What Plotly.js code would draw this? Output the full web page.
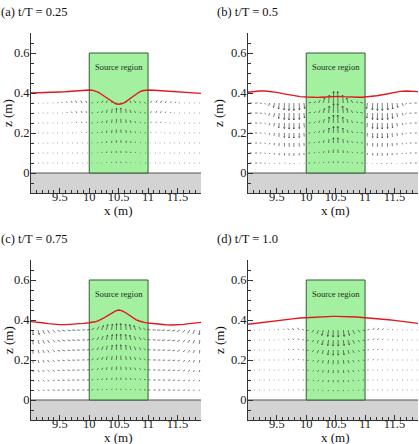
<!DOCTYPE html>
<html>
<head>
<meta charset="utf-8">
<script src="https://cdn.plot.ly/plotly-3.0.1.min.js"></script>
<style>
  html, body { margin: 0; padding: 0; background: #fff; }
  #chart { width: 419px; height: 444px; }
</style>
</head>
<body>
<div id="chart"></div>
<script>
// ---------- data ----------
const panelTitles = ['(a) t/T = 0.25', '(b) t/T = 0.5', '(c) t/T = 0.75', '(d) t/T = 1.0'];

// source region and still-water bed
const sourceX = [10, 11];
const sourceZ = [0, 0.6];
const bedZ = [-0.1, 0];

// free-surface elevation z (m) along x (m)
const surfX = [9.0, 9.1, 9.2, 9.3, 9.4, 9.5, 9.6, 9.7, 9.8, 9.9,
  10.0, 10.05, 10.1, 10.15, 10.2, 10.25, 10.3, 10.35, 10.4, 10.45, 10.5,
  10.55, 10.6, 10.65, 10.7, 10.75, 10.8, 10.85, 10.9, 10.95, 11.0,
  11.1, 11.2, 11.3, 11.4, 11.5, 11.6, 11.7, 11.8, 11.9];
const surfA = [.400, .401, .402, .403, .402, .404, .406, .409, .412, .414,
  .415, .414, .410, .404, .395, .385, .373, .362, .352, .346, .344,
  .346, .352, .362, .373, .385, .396, .405, .411, .414, .415,
  .414, .412, .409, .406, .404, .402, .400, .399, .398];
const surfB = [.403, .407, .410, .410, .408, .403, .397, .391, .386, .382,
  .380, .379, .379, .378, .378, .379, .380, .381, .382, .383, .384,
  .383, .382, .381, .380, .379, .378, .378, .379, .379, .380,
  .382, .386, .391, .397, .403, .408, .410, .410, .407];
const surfC = [.392, .390, .386, .382, .379, .377, .377, .378, .380, .383,
  .386, .388, .391, .396, .402, .410, .419, .428, .437, .446, .450,
  .447, .440, .430, .420, .410, .401, .395, .390, .387, .385,
  .381, .378, .376, .375, .376, .378, .382, .386, .388];
const surfD = [.378, .382, .386, .390, .394, .398, .401, .404, .407, .410,
  .412, .413, .414, .415, .415, .416, .416, .417, .417, .418, .418,
  .418, .417, .417, .416, .416, .415, .415, .414, .413, .412,
  .410, .407, .404, .401, .398, .394, .390, .386, .383];

// velocity sampling grid
const gridX = [9.04, 9.13, 9.21, 9.29, 9.38, 9.46, 9.54, 9.63, 9.71, 9.79, 9.88, 9.96,
  10.04, 10.13, 10.21, 10.29, 10.38, 10.46, 10.54, 10.63, 10.71, 10.79, 10.88, 10.96,
  11.04, 11.13, 11.21, 11.29, 11.38, 11.46, 11.54, 11.63, 11.71, 11.79, 11.88];
const gridZ = [0.35, 0.30, 0.25, 0.20, 0.15, 0.10, 0.05];

// velocity components (cm/s), one row per gridZ level
const uA = [
  [1,1,1,1,1,1, -0.8,-1,-1.2,-1.4,-1.5,-1.3, 1.6,1.6,1.4,1,0.6,0.2,-0.2,-0.6,-1,-1.4,-1.6,-1.6, 1.3,1.5,1.4,1.2,1,0.8, -1,-1,-1,-1,-1],
  [1,1,1,1,1,1,1, -0.6,-0.8,-1,-1.1,-1, 1.5,1.5,1.3,1,0.6,0.2,-0.2,-0.6,-1,-1.3,-1.5,-1.5, 1,1.1,1,0.8,0.6, -1,-1,-1,-1,-1,-1],
  [1,1,1,1,1,1,1,1, -0.6,-0.7,-0.8,-0.8, 1.3,1.2,1,0.8,0.5,0.2,-0.2,-0.5,-0.8,-1,-1.2,-1.3, 0.8,0.8,0.7,0.6, -1,-1,-1,-1,-1,-1,-1],
  [1,1,1,1,1,1,1,1,1, -0.5,-0.6,-0.6, 1.2,1,0.8,0.6,0.4,0.1,-0.1,-0.4,-0.6,-0.8,-1,-1.2, 0.6,0.6,0.5, -1,-1,-1,-1,-1,-1,-1,-1],
  [1,1,1,1,1,1,1,1,1,1,1,1, 1,0.9,0.7,0.5,0.3,0.1,-0.1,-0.3,-0.5,-0.7,-0.9,-1, -1,-1,-1,-1,-1,-1,-1,-1,-1,-1,-1],
  [1,1,1,1,1,1,1,1,1,1,1,1, 1,0.8,0.6,0.4,0.2,0.1,-0.1,-0.2,-0.4,-0.6,-0.8,-1, -1,-1,-1,-1,-1,-1,-1,-1,-1,-1,-1],
  [1,1,1,1,1,1,1,1,1,1,1,1, 1,0.8,0.6,0.4,0.2,0.1,-0.1,-0.2,-0.4,-0.6,-0.8,-1, -1,-1,-1,-1,-1,-1,-1,-1,-1,-1,-1]
];
const wA = [
  [0,0,0,0,0.2,0.4, 1.2,1.6,2,2.4,2.6,2.2, 0.4,1.4,2.4,2.6,2,1,1,2,2.6,2.4,1.4,0.4, 2.2,2.6,2.4,2,1.6,1.2, 0.4,0.2,0,0,0],
  [0,0,0,0,0,0,0, 1,1.4,1.8,2,1.8, 0.3,1.2,2.2,3.2,4.2,4.8,4.8,4.2,3.2,2.2,1.2,0.3, 1.8,2,1.8,1.4,1, 0,0,0,0,0,0],
  [0,0,0,0,0,0,0,0, 0.8,1.1,1.3,1.3, 0.2,1,1.9,2.8,3.6,4.2,4.2,3.6,2.8,1.9,1,0.2, 1.3,1.3,1.1,0.8, 0,0,0,0,0,0,0],
  [0,0,0,0,0,0,0,0,0, 0.6,0.8,0.9, 0.2,0.8,1.6,2.4,3,3.5,3.5,3,2.4,1.6,0.8,0.2, 0.9,0.8,0.6, 0,0,0,0,0,0,0,0],
  [0,0,0,0,0,0,0,0,0,0,0,0, 0.1,0.6,1.2,1.8,2.4,2.8,2.8,2.4,1.8,1.2,0.6,0.1, 0,0,0,0,0,0,0,0,0,0,0],
  [0,0,0,0,0,0,0,0,0,0,0,0, 0,0.4,0.9,1.3,1.8,2.1,2.1,1.8,1.3,0.9,0.4,0, 0,0,0,0,0,0,0,0,0,0,0],
  [0,0,0,0,0,0,0,0,0,0,0,0, 0,0.2,0.5,0.8,1.1,1.3,1.3,1.1,0.8,0.5,0.2,0, 0,0,0,0,0,0,0,0,0,0,0]
];

const uB = [
  [2.5,2.5,2,1.5, -1.2,-1, -0.6,-0.4,-0.2,0,0.3,0.8, 2.4,2,1.6,1.2,0.8,0.3,-0.3,-0.8,-1.2,-1.6,-2,-2.4, -0.8,-0.3,0,0.2,0.4,0.6, 1,1.2, -1.5,-2,-2.5],
  [2.5,2.5,2,1.5, -1,-0.8, -0.5,-0.3,-0.2,0,0.2,0.6, 2.2,1.8,1.5,1.1,0.7,0.3,-0.3,-0.7,-1.1,-1.5,-1.8,-2.2, -0.6,-0.2,0,0.2,0.3,0.5, 0.8,1, -1.5,-2,-2.5],
  [2.2,2.2,1.8,1.3, -0.8,-0.6, -0.4,-0.2,-0.1,0,0.2,0.5, 2,1.6,1.3,1,0.6,0.2,-0.2,-0.6,-1,-1.3,-1.6,-2, -0.5,-0.2,0,0.1,0.2,0.4, 0.6,0.8, -1.3,-1.8,-2.2],
  [2,2,1.6,1.2, -0.6,-0.5, -0.3,-0.2,-0.1,0,0.1,0.4, 1.8,1.4,1.1,0.8,0.5,0.2,-0.2,-0.5,-0.8,-1.1,-1.4,-1.8, -0.4,-0.1,0,0.1,0.2,0.3, 0.5,0.6, -1.2,-1.6,-2],
  [2,2,1.6,1.2, -0.5,-0.4, -0.2,-0.1,0,0,0.1,0.3, 1.6,1.3,1,0.7,0.4,0.1,-0.1,-0.4,-0.7,-1,-1.3,-1.6, -0.3,-0.1,0,0,0.1,0.2, 0.4,0.5, -1.2,-1.6,-2],
  [2,2,1.6,1.2, -0.4,-0.3, -0.1,0,0,0,0.1,0.2, 1.5,1.2,0.9,0.6,0.3,0.1,-0.1,-0.3,-0.6,-0.9,-1.2,-1.5, -0.2,-0.1,0,0,0,0.1, 0.3,0.4, -1.2,-1.6,-2],
  [2,2,1.6,1.2, -0.3,-0.2, 1,1,0.8,0.6,0.5,0.4, 1.5,1.2,0.9,0.6,0.3,0.1,-0.1,-0.3,-0.6,-0.9,-1.2,-1.5, -0.4,-0.5,-0.6,-0.8,-1,-1, 0.2,0.3, -1.2,-1.6,-2]
];
const wB = [
  [0,0,-0.5,-1.5, -3,-4.5, -6,-7,-7.5,-7.5,-7,-5.5, 0.6,1.6,3,5,8,11.5,11.5,8,5,3,1.6,0.6, -5.5,-7,-7.5,-7.5,-7,-6, -4.5,-3, -1.5,-0.5,0],
  [0,0,-0.4,-1.2, -2.6,-4, -5.5,-6.5,-7,-7,-6.5,-5, 0.5,1.5,2.8,4.5,7,9.5,9.5,7,4.5,2.8,1.5,0.5, -5,-6.5,-7,-7,-6.5,-5.5, -4,-2.6, -1.2,-0.4,0],
  [0,0,-0.3,-1, -2.2,-3.4, -4.8,-5.6,-6,-6,-5.6,-4.4, 0.4,1.3,2.5,4,6,8,8,6,4,2.5,1.3,0.4, -4.4,-5.6,-6,-6,-5.6,-4.8, -3.4,-2.2, -1,-0.3,0],
  [0,0,-0.2,-0.8, -1.8,-2.8, -4,-4.6,-5,-5,-4.6,-3.6, 0.3,1.1,2.1,3.3,5,6.6,6.6,5,3.3,2.1,1.1,0.3, -3.6,-4.6,-5,-5,-4.6,-4, -2.8,-1.8, -0.8,-0.2,0],
  [0,0,-0.2,-0.6, -1.4,-2.2, -3.2,-3.6,-3.9,-3.9,-3.6,-2.8, 0.2,0.9,1.7,2.7,4,5.2,5.2,4,2.7,1.7,0.9,0.2, -2.8,-3.6,-3.9,-3.9,-3.6,-3.2, -2.2,-1.4, -0.6,-0.2,0],
  [0,0,-0.1,-0.4, -1,-1.6, -2.3,-2.6,-2.8,-2.8,-2.6,-2, 0.1,0.6,1.2,1.9,2.8,3.6,3.6,2.8,1.9,1.2,0.6,0.1, -2,-2.6,-2.8,-2.8,-2.6,-2.3, -1.6,-1, -0.4,-0.1,0],
  [0,0,0,-0.2, -0.5,-0.8, -0.6,-0.7,-0.8,-0.8,-0.7,-0.5, 0,0.3,0.6,1,1.4,1.8,1.8,1.4,1,0.6,0.3,0, -0.5,-0.7,-0.8,-0.8,-0.7,-0.6, -0.8,-0.5, -0.2,0,0]
];

const uC = [
  [0.4,1.2,1.8,2.2,2.6, 3,3.2,3.4,3.4,3.4,3.2,3, 2.5,2.2,1.8,1.4,0.8,0.3,-0.3,-0.8,-1.4,-1.8,-2.2,-2.5, -3,-3.2,-3.4,-3.4,-3.4,-3.2,-3, -2.6,-2.2,-1.6,-0.6],
  [0.4,1.1,1.6,2,2.4, 2.8,3,3.1,3.1,3.1,3,2.8, 2.3,2,1.6,1.2,0.7,0.3,-0.3,-0.7,-1.2,-1.6,-2,-2.3, -2.8,-3,-3.1,-3.1,-3.1,-3,-2.8, -2.4,-2,-1.5,-0.6],
  [0.4,1,1.5,1.8,2.2, 2.6,2.8,2.9,2.9,2.9,2.8,2.6, 2.1,1.8,1.4,1.1,0.6,0.2,-0.2,-0.6,-1.1,-1.4,-1.8,-2.1, -2.6,-2.8,-2.9,-2.9,-2.9,-2.8,-2.6, -2.2,-1.8,-1.4,-0.5],
  [0.4,1,1.4,1.7,2, 2.4,2.6,2.7,2.7,2.7,2.6,2.4, 1.9,1.6,1.3,1,0.6,0.2,-0.2,-0.6,-1,-1.3,-1.6,-1.9, -2.4,-2.6,-2.7,-2.7,-2.7,-2.6,-2.4, -2,-1.7,-1.3,-0.5],
  [0.6,1.2,1.5,1.8,2, 2.3,2.5,2.6,2.6,2.6,2.5,2.3, 1.8,1.5,1.2,0.9,0.5,0.2,-0.2,-0.5,-0.9,-1.2,-1.5,-1.8, -2.3,-2.5,-2.6,-2.6,-2.6,-2.5,-2.3, -2,-1.8,-1.4,-0.7],
  [0.8,1.3,1.6,1.8,2, 2.2,2.4,2.5,2.5,2.5,2.4,2.2, 1.7,1.4,1.1,0.8,0.5,0.2,-0.2,-0.5,-0.8,-1.1,-1.4,-1.7, -2.2,-2.4,-2.5,-2.5,-2.5,-2.4,-2.2, -2,-1.8,-1.5,-1],
  [1,1.4,1.7,1.9,2, 2.2,2.3,2.4,2.4,2.4,2.3,2.2, 1.7,1.4,1.1,0.8,0.5,0.2,-0.2,-0.5,-0.8,-1.1,-1.4,-1.7, -2.2,-2.3,-2.4,-2.4,-2.4,-2.3,-2.2, -2,-1.9,-1.6,-1.2]
];
const wC = [
  [-5,-4.5,-4,-3.4,-2.6, -1.8,-1.2,-0.8,-0.4,-0.2,0.2,0.6, 2,3.4,4.4,5.4,6,6.4,6.4,6,5.4,4.4,3.4,2, 0.6,0.2,-0.2,-0.4,-0.8,-1.2,-1.8, -2.6,-3.4,-4,-4.6],
  [-4.4,-4,-3.5,-3,-2.3, -1.6,-1.1,-0.7,-0.4,-0.2,0.2,0.5, 1.8,3,4,4.8,5.4,5.8,5.8,5.4,4.8,4,3,1.8, 0.5,0.2,-0.2,-0.4,-0.7,-1.1,-1.6, -2.3,-3,-3.5,-4],
  [-3.8,-3.4,-3,-2.6,-2, -1.4,-1,-0.6,-0.3,-0.1,0.1,0.4, 1.5,2.6,3.5,4.2,4.8,5.2,5.2,4.8,4.2,3.5,2.6,1.5, 0.4,0.1,-0.1,-0.3,-0.6,-1,-1.4, -2,-2.6,-3,-3.4],
  [-3.2,-2.9,-2.6,-2.2,-1.7, -1.2,-0.8,-0.5,-0.3,-0.1,0.1,0.3, 1.3,2.2,3,3.6,4.1,4.4,4.4,4.1,3.6,3,2.2,1.3, 0.3,0.1,-0.1,-0.3,-0.5,-0.8,-1.2, -1.7,-2.2,-2.6,-2.9],
  [-2.4,-2.2,-2,-1.7,-1.3, -0.9,-0.6,-0.4,-0.2,-0.1,0.1,0.2, 1,1.7,2.3,2.8,3.2,3.4,3.4,3.2,2.8,2.3,1.7,1, 0.2,0.1,-0.1,-0.2,-0.4,-0.6,-0.9, -1.3,-1.7,-2,-2.2],
  [-1.6,-1.5,-1.3,-1.1,-0.9, -0.6,-0.4,-0.3,-0.2,-0.1,0,0.1, 0.7,1.2,1.6,2,2.2,2.4,2.4,2.2,2,1.6,1.2,0.7, 0.1,0,-0.1,-0.2,-0.3,-0.4,-0.6, -0.9,-1.1,-1.3,-1.5],
  [-0.8,-0.7,-0.6,-0.5,-0.4, -0.3,-0.2,-0.1,-0.1,0,0,0, 0.3,0.6,0.8,1,1.1,1.2,1.2,1.1,1,0.8,0.6,0.3, 0,0,0,-0.1,-0.1,-0.2,-0.3, -0.4,-0.5,-0.6,-0.7]
];

const uD = [
  [-1,-1,-1,-1,-1,-1, -1,-1.2,-1.5,-1.6,-1.6,-2, -2.2,-2,-1.8,-1.4,-0.9,-0.3,0.3,0.9,1.4,1.8,2,2.2, 2,1.6,1.6,1.5,1.2, 1,1,1,1,1,1],
  [-1,-1,-1,-1,-1,-1, -0.8,-1,-1.2,-1.3,-1.4,-1.8, -2,-1.8,-1.6,-1.3,-0.8,-0.3,0.3,0.8,1.3,1.6,1.8,2, 1.8,1.4,1.3,1.2,1, 1,1,1,1,1,1],
  [-1,-1,-1,-1,-1,-1, -0.6,-0.8,-1,-1.1,-1.2,-1.6, -1.8,-1.6,-1.4,-1.1,-0.7,-0.2,0.2,0.7,1.1,1.4,1.6,1.8, 1.6,1.2,1.1,1,0.8, 1,1,1,1,1,1],
  [-1,-1,-1,-1,-1,-1, -1,-1,-1,-1,-1,-1.4, -1.6,-1.4,-1.2,-0.9,-0.6,-0.2,0.2,0.6,0.9,1.2,1.4,1.6, 1.4,1,1,1,1, 1,1,1,1,1,1],
  [-1,-1,-1,-1,-1,-1,-1,-1,-1,-1,-1,-1.2, -1.4,-1.2,-1,-0.8,-0.5,-0.2,0.2,0.5,0.8,1,1.2,1.4, 1.2,1,1,1,1,1,1,1,1,1,1],
  [-1,-1,-1,-1,-1,-1,-1,-1,-1,-1,-1,-1.1, -1.2,-1,-0.9,-0.7,-0.4,-0.1,0.1,0.4,0.7,0.9,1,1.2, 1.1,1,1,1,1,1,1,1,1,1,1],
  [-1,-1,-1,-1,-1,-1,-1,-1,-1,-1,-1,-1.1, -1.2,-1,-0.9,-0.7,-0.4,-0.1,0.1,0.4,0.7,0.9,1,1.2, 1.1,1,1,1,1,1,1,1,1,1,1]
];
const wD = [
  [0,0,0,0,0,0.2, 0.8,1.2,1.6,2,2.2,0.6, -1,-2.5,-4,-5.4,-6.4,-7,-7,-6.4,-5.4,-4,-2.5,-1, 0.6,2.2,2,1.6,1.2, 0.8,0.2,0,0,0,0],
  [0,0,0,0,0,0, 0.6,0.9,1.2,1.5,1.6,0.4, -0.8,-2.2,-3.5,-4.8,-5.6,-6.1,-6.1,-5.6,-4.8,-3.5,-2.2,-0.8, 0.4,1.6,1.5,1.2,0.9, 0.6,0,0,0,0,0],
  [0,0,0,0,0,0, 0.4,0.6,0.9,1.1,1.2,0.3, -0.6,-1.8,-3,-4,-4.8,-5.2,-5.2,-4.8,-4,-3,-1.8,-0.6, 0.3,1.2,1.1,0.9,0.6, 0.4,0,0,0,0,0],
  [0,0,0,0,0,0, 0,0.2,0.4,0.6,0.7,0.2, -0.5,-1.5,-2.4,-3.2,-3.9,-4.3,-4.3,-3.9,-3.2,-2.4,-1.5,-0.5, 0.2,0.7,0.6,0.4,0.2, 0,0,0,0,0,0],
  [0,0,0,0,0,0,0,0,0,0,0,0.1, -0.4,-1.2,-1.9,-2.5,-3,-3.3,-3.3,-3,-2.5,-1.9,-1.2,-0.4, 0.1,0,0,0,0,0,0,0,0,0,0],
  [0,0,0,0,0,0,0,0,0,0,0,0, -0.3,-0.8,-1.3,-1.8,-2.1,-2.3,-2.3,-2.1,-1.8,-1.3,-0.8,-0.3, 0,0,0,0,0,0,0,0,0,0,0],
  [0,0,0,0,0,0,0,0,0,0,0,0, -0.1,-0.4,-0.7,-0.9,-1.1,-1.2,-1.2,-1.1,-0.9,-0.7,-0.4,-0.1, 0,0,0,0,0,0,0,0,0,0,0]
];

// ---------- layout geometry ----------
const W = 419, H = 444;
const X_RANGE = [9.01, 11.9];
const Z_RANGE = [-0.1, 0.7];
const boxes = [
  { l: 31,  r: 201, t: 33,  b: 193 },
  { l: 248, r: 418, t: 33,  b: 193 },
  { l: 31,  r: 201, t: 260, b: 420 },
  { l: 248, r: 418, t: 260, b: 420 }
];
const fields = [[uA, wA], [uB, wB], [uC, wC], [uD, wD]];
const surfaces = [surfA, surfB, surfC, surfD];

const FONT = '"Times New Roman", Times, "Liberation Serif", Tinos, serif';
const INK = '#222';
const ARROW_PX = 1.0;   // pixels per cm/s

function quiver(u, w, pxX, pxZ) {
  const X = [], Y = [];
  for (let r = 0; r < gridZ.length; r++) {
    if (u[r].length !== gridX.length || w[r].length !== gridX.length) {
      throw new Error('row length mismatch at row ' + r);
    }
    for (let c = 0; c < gridX.length; c++) {
      let dx = u[r][c] * ARROW_PX, dz = w[r][c] * ARROW_PX;
      let len = Math.hypot(dx, dz);
      const minLen = 0.7;
      if (len < minLen) {
        if (len === 0) { dx = minLen; dz = 0; } else { dx *= minLen / len; dz *= minLen / len; }
        len = minLen;
      } else if (len <= 1.05) {
        dx *= 0.7; dz *= 0.7; len *= 0.7;
      }
      const x0 = gridX[c], z0 = gridZ[r];
      const x1 = x0 + dx / pxX, z1 = z0 + dz / pxZ;
      X.push(x0, x1, null); Y.push(z0, z1, null);
      if (len >= 4.5) {
        const h = Math.min(1.8, 0.25 * len), a = 0.5;
        const ang = Math.atan2(dz, dx);
        const lx = x1 + h * Math.cos(ang + Math.PI - a) / pxX;
        const lz = z1 + h * Math.sin(ang + Math.PI - a) / pxZ;
        const rx = x1 + h * Math.cos(ang + Math.PI + a) / pxX;
        const rz = z1 + h * Math.sin(ang + Math.PI + a) / pxZ;
        X.push(lx, x1, rx, null); Y.push(lz, z1, rz, null);
      }
    }
  }
  return { X, Y };
}

const traces = [];
const layout = {
  width: W, height: H,
  margin: { l: 0, r: 0, t: 0, b: 0 },
  paper_bgcolor: '#fff', plot_bgcolor: '#fff',
  showlegend: false,
  font: { family: FONT, color: INK },
  shapes: [], annotations: []
};

boxes.forEach((bx, i) => {
  const n = i + 1;
  const xa = n === 1 ? 'x' : 'x' + n;
  const ya = n === 1 ? 'y' : 'y' + n;
  const xKey = n === 1 ? 'xaxis' : 'xaxis' + n;
  const yKey = n === 1 ? 'yaxis' : 'yaxis' + n;
  const pxX = (bx.r - bx.l) / (X_RANGE[1] - X_RANGE[0]);
  const pxZ = (bx.b - bx.t) / (Z_RANGE[1] - Z_RANGE[0]);

  const axisCommon = {
    showgrid: false, zeroline: false, showline: true,
    linecolor: '#333', linewidth: 1,
    ticks: 'inside', ticklen: 5, tickwidth: 1, tickcolor: '#333',
    tickfont: { family: FONT, size: 12.5, color: INK },
    fixedrange: true
  };
  layout[xKey] = Object.assign({}, axisCommon, {
    domain: [bx.l / W, bx.r / W], anchor: ya, range: X_RANGE,
    tickmode: 'linear', tick0: 9.5, dtick: 0.5,
    ticklabelstandoff: -8,
    minor: { ticks: 'inside', ticklen: 3, tickcolor: '#333', dtick: 0.1, tick0: 9 }
  });
  layout[yKey] = Object.assign({}, axisCommon, {
    domain: [1 - bx.b / H, 1 - bx.t / H], anchor: xa, range: Z_RANGE,
    tickmode: 'linear', tick0: 0, dtick: 0.2,
    ticklabelstandoff: -2,
    minor: { ticks: 'inside', ticklen: 3, tickcolor: '#333', dtick: 0.05, tick0: 0 }
  });

  // bed and source region
  layout.shapes.push({ type: 'rect', xref: xa, yref: ya, layer: 'below',
    x0: X_RANGE[0], x1: X_RANGE[1], y0: bedZ[0], y1: bedZ[1],
    fillcolor: '#d3d3d3', line: { width: 0 } });
  layout.shapes.push({ type: 'line', xref: xa, yref: ya, layer: 'below',
    x0: X_RANGE[0], x1: X_RANGE[1], y0: bedZ[1], y1: bedZ[1],
    line: { color: '#555', width: 1 } });
  layout.shapes.push({ type: 'rect', xref: xa, yref: ya, layer: 'below',
    x0: sourceX[0], x1: sourceX[1], y0: sourceZ[0], y1: sourceZ[1],
    fillcolor: '#a3f0a0', line: { color: '#2f5f2f', width: 1 } });

  // velocity vectors
  const q = quiver(fields[i][0], fields[i][1], pxX, pxZ);
  traces.push({ type: 'scatter', mode: 'lines', x: q.X, y: q.Y, xaxis: xa, yaxis: ya,
    line: { color: '#2a2a2a', width: 0.6 }, hoverinfo: 'skip', connectgaps: false });

  // free surface
  traces.push({ type: 'scatter', mode: 'lines', x: surfX, y: surfaces[i], xaxis: xa, yaxis: ya,
    line: { color: '#e3171b', width: 1.4 }, hoverinfo: 'skip' });

  // texts
  layout.annotations.push({ xref: xa, yref: ya, x: 10.5, y: 0.53, text: 'Source region',
    showarrow: false, font: { family: FONT, size: 8.5, color: '#1d2d1d' } });
  layout.annotations.push({ xref: 'paper', yref: 'paper',
    x: (i % 2 === 0 ? -1 : 215) / W, y: 1 - (i < 2 ? 12 : 238.5) / H,
    xanchor: 'left', yanchor: 'middle', text: panelTitles[i], showarrow: false,
    font: { family: FONT, size: 12.5, color: '#111' } });
  layout.annotations.push({ xref: 'paper', yref: 'paper',
    x: (i % 2 === 0 ? 8 : 219) / W, y: 1 - ((bx.t + bx.b) / 2) / H,
    xanchor: 'center', yanchor: 'middle', textangle: -90, text: 'z (m)', showarrow: false,
    font: { family: FONT, size: 13, color: '#111' } });
  layout.annotations.push({ xref: xa, yref: 'paper', x: 10.5,
    y: 1 - (bx.b + 17) / H, xanchor: 'center', yanchor: 'middle',
    text: 'x (m)', showarrow: false, font: { family: FONT, size: 13, color: '#111' } });
});

Plotly.newPlot('chart', traces, layout, { staticPlot: true, displayModeBar: false });
</script>
</body>
</html>
